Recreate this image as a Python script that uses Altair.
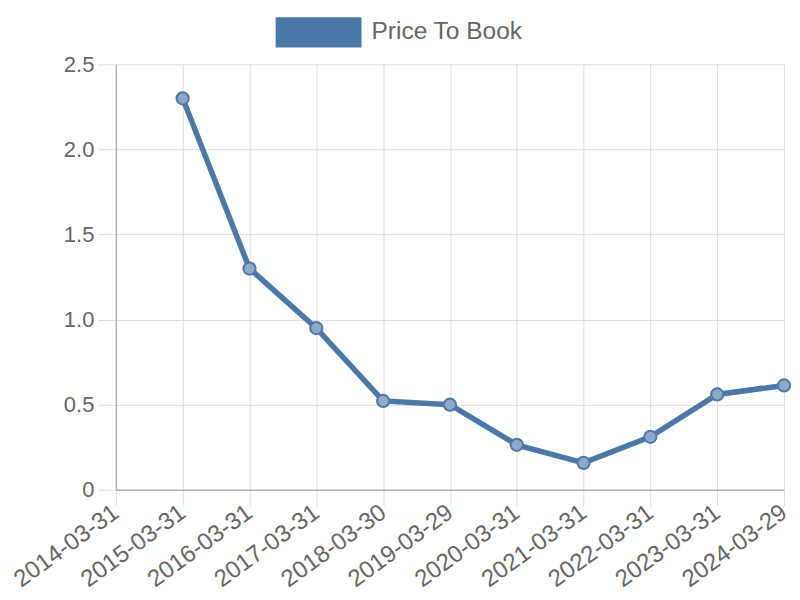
import altair as alt
import pandas as pd

dates = ["2014-03-31", "2015-03-31", "2016-03-31", "2017-03-31", "2018-03-30",
         "2019-03-29", "2020-03-31", "2021-03-31", "2022-03-31", "2023-03-31", "2024-03-29"]
values = [None, 2.30, 1.30, 0.95, 0.522, 0.50, 0.264, 0.158, 0.311, 0.56, 0.613]
series = ["Price To Book"] * len(dates)

df = pd.DataFrame({"date": dates, "value": values, "series": series})

BLUE = "#4c78a8"
FONT = "Liberation Sans"
GRID = "#dedede"

x_enc = alt.X(
    "date:O",
    scale=alt.Scale(type="point", padding=0, domain=dates),
    axis=alt.Axis(
        title=None, labelAngle=-36, labelAlign="right", labelBaseline="middle",
        labelFontSize=24, labelColor="#666666", labelFont=FONT, labelPadding=4,
        tickSize=16, tickColor=GRID, grid=True, gridColor=GRID, gridWidth=1,
        domainColor="#b0b0b0", domainWidth=1.5,
    ),
)
y_enc = alt.Y(
    "value:Q",
    scale=alt.Scale(domain=[0, 2.5], nice=False, zero=True),
    axis=alt.Axis(
        title=None, values=[0, 0.5, 1.0, 1.5, 2.0, 2.5],
        labelExpr="datum.value == 0 ? '0' : format(datum.value, '.1f')",
        labelFontSize=22, labelColor="#666666", labelFont=FONT, labelPadding=4,
        tickSize=18, tickColor=GRID, grid=True, gridColor=GRID, gridWidth=1,
        domainColor="#b0b0b0", domainWidth=1.5,
    ),
)
color_enc = alt.Color(
    "series:N",
    scale=alt.Scale(range=[BLUE]),
    legend=alt.Legend(
        title=None, orient="none", legendX=160, legendY=-75,
        symbolType="M-1,-0.35L1,-0.35L1,0.35L-1,0.35Z", symbolSize=7396,
        symbolFillColor=BLUE, symbolStrokeColor=BLUE, symbolStrokeWidth=0,
        symbolOpacity=1,
        labelFontSize=24.5, labelColor="#666666", labelFont=FONT, labelOffset=10,
    ),
)

base = alt.Chart(df).encode(x=x_enc, y=y_enc)

line = base.mark_line(strokeWidth=5.5, color=BLUE).encode(color=color_enc)
points = base.mark_point(
    shape="circle", size=150, filled=True, fill="#8ea9c9", stroke=BLUE,
    strokeWidth=2, opacity=1,
)

chart = alt.layer(line, points).properties(
    width=669, height=426,
    padding={"left": 108, "top": 56, "right": 8, "bottom": 110},
    autosize=alt.AutoSizeParams(type="none"),
).configure_view(stroke=None)

chart.save("out.html", embed_options={"renderer": "svg", "actions": False})
